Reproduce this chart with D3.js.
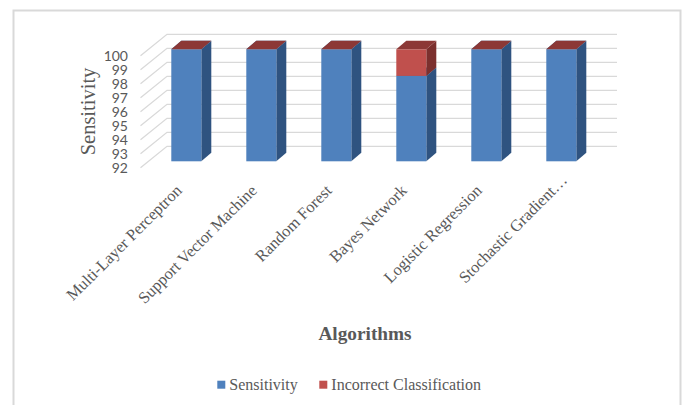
<!DOCTYPE html>
<html>
<head>
<meta charset="utf-8">
<script src="https://cdn.jsdelivr.net/npm/d3@7/dist/d3.min.js"></script>
<style>
  html, body { margin: 0; padding: 0; background: #fff; }
  svg { display: block; }
</style>
</head>
<body>
<svg id="chart" width="684" height="405"></svg>
<script>
const categories = ["Multi-Layer Perceptron", "Support Vector Machine", "Random Forest",
                    "Bayes Network", "Logistic Regression", "Stochastic Gradient…"];
const sensitivity = [100, 100, 100, 98.1, 100, 100];
const incorrectClassification = [0, 0, 0, 1.9, 0, 0];
const yTicks = [92, 93, 94, 95, 96, 97, 98, 99, 100];
const seriesNames = ["Sensitivity", "Incorrect Classification"];

const palette = [
  { front: "#4f81bd", side: "#2f5380", top: "#3f6a9c" },
  { front: "#c0504d", side: "#7c302e", top: "#8c3836" }
];
const serif = "'Liberation Serif', serif";
const grey = "#595959";

const svg = d3.select("#chart");

// Frame of the chart area: open along the bottom of the page
svg.append("path")
  .attr("d", "M13.5,405V10.5H680.5V405")
  .attr("fill", "none").attr("stroke", "#d9d9d9").attr("stroke-width", 2);

// Scales for the front plane of the bars
const x = d3.scaleBand().domain(categories).range([148.8, 598.8]).paddingInner(0.6).paddingOuter(0.3);
const y = d3.scaleLinear().domain([92, 100]).range([161.3, 49.3]);

// Depth offsets of the bars and of the floor / back wall
const barDepth = { dx: 10, dy: -8.5 };
const wall = { x0: 140.5, dx: 26.5, dy: -21.4, x1: 617, lift: 6.4 };

// Gridlines: slanted side wall plus horizontal back wall
svg.append("g").attr("fill", "none").attr("stroke", "#d9d9d9").attr("stroke-width", 1.3)
  .selectAll("path").data(yTicks).join("path")
  .attr("d", v => {
    const fy = y(v) + wall.lift;
    return `M${wall.x0},${fy}L${wall.x0 + wall.dx},${fy + wall.dy}H${wall.x1}`;
  });

// Stacked 3-D columns
const stacks = categories.map((c, i) => ({
  c,
  parts: [
    { s: 0, v0: 92, v1: sensitivity[i] },
    { s: 1, v0: sensitivity[i], v1: sensitivity[i] + incorrectClassification[i] }
  ]
}));

const cols = svg.append("g").selectAll("g").data(stacks).join("g");
cols.each(function (d) {
  const g = d3.select(this);
  const l = x(d.c), r = l + x.bandwidth();
  d.parts.forEach(p => {
    const yb = y(p.v0), yt = y(p.v1);
    const col = palette[p.s];
    g.append("path").attr("fill", col.side)
      .attr("d", `M${r},${yb}L${r + barDepth.dx},${yb + barDepth.dy}V${yt + barDepth.dy}L${r},${yt}Z`);
    g.append("rect").attr("x", l).attr("y", yt).attr("width", r - l).attr("height", yb - yt).attr("fill", col.front);
    g.append("path").attr("fill", col.top)
      .attr("d", `M${l},${yt}L${l + barDepth.dx},${yt + barDepth.dy}H${r + barDepth.dx}L${r},${yt}Z`);
  });
});

// Value axis labels
svg.append("g").selectAll("text").data(yTicks).join("text")
  .attr("x", 128).attr("y", d => y(d) + wall.lift + 5)
  .attr("text-anchor", "end")
  .attr("font-family", "Lato, sans-serif").attr("font-size", 14).attr("fill", grey)
  .text(d => d);

// Category labels, rotated 45 degrees and ending under each bar;
// a truncated label runs a little further along its baseline
svg.append("g").selectAll("text").data(categories).join("text")
  .attr("transform", c => `translate(${x(c) + 11.5},191.5) rotate(-45)`)
  .attr("dx", c => (c.endsWith("…") ? 14.5 : 0))
  .attr("text-anchor", "end")
  .attr("font-family", serif).attr("font-size", 16.4).attr("fill", grey)
  .text(c => c);

// Axis titles
svg.append("text")
  .attr("transform", "translate(95,111.5) rotate(-90)")
  .attr("text-anchor", "middle")
  .attr("font-family", serif).attr("font-size", 20.5).attr("fill", grey)
  .text("Sensitivity");

svg.append("text")
  .attr("x", 365).attr("y", 340).attr("text-anchor", "middle")
  .attr("font-family", serif).attr("font-size", 19.3).attr("font-weight", "bold").attr("fill", grey)
  .text("Algorithms");

// Legend
const legendX = [217.3, 319.3];
const legend = svg.append("g").selectAll("g").data(seriesNames).join("g")
  .attr("transform", (d, i) => `translate(${legendX[i]},385)`);
legend.append("rect").attr("y", -4.3).attr("width", 8).attr("height", 8)
  .attr("fill", (d, i) => palette[i].front);
legend.append("text").attr("x", 12).attr("y", 5)
  .attr("font-family", serif).attr("font-size", 16).attr("fill", grey)
  .text(d => d);
</script>
</body>
</html>
